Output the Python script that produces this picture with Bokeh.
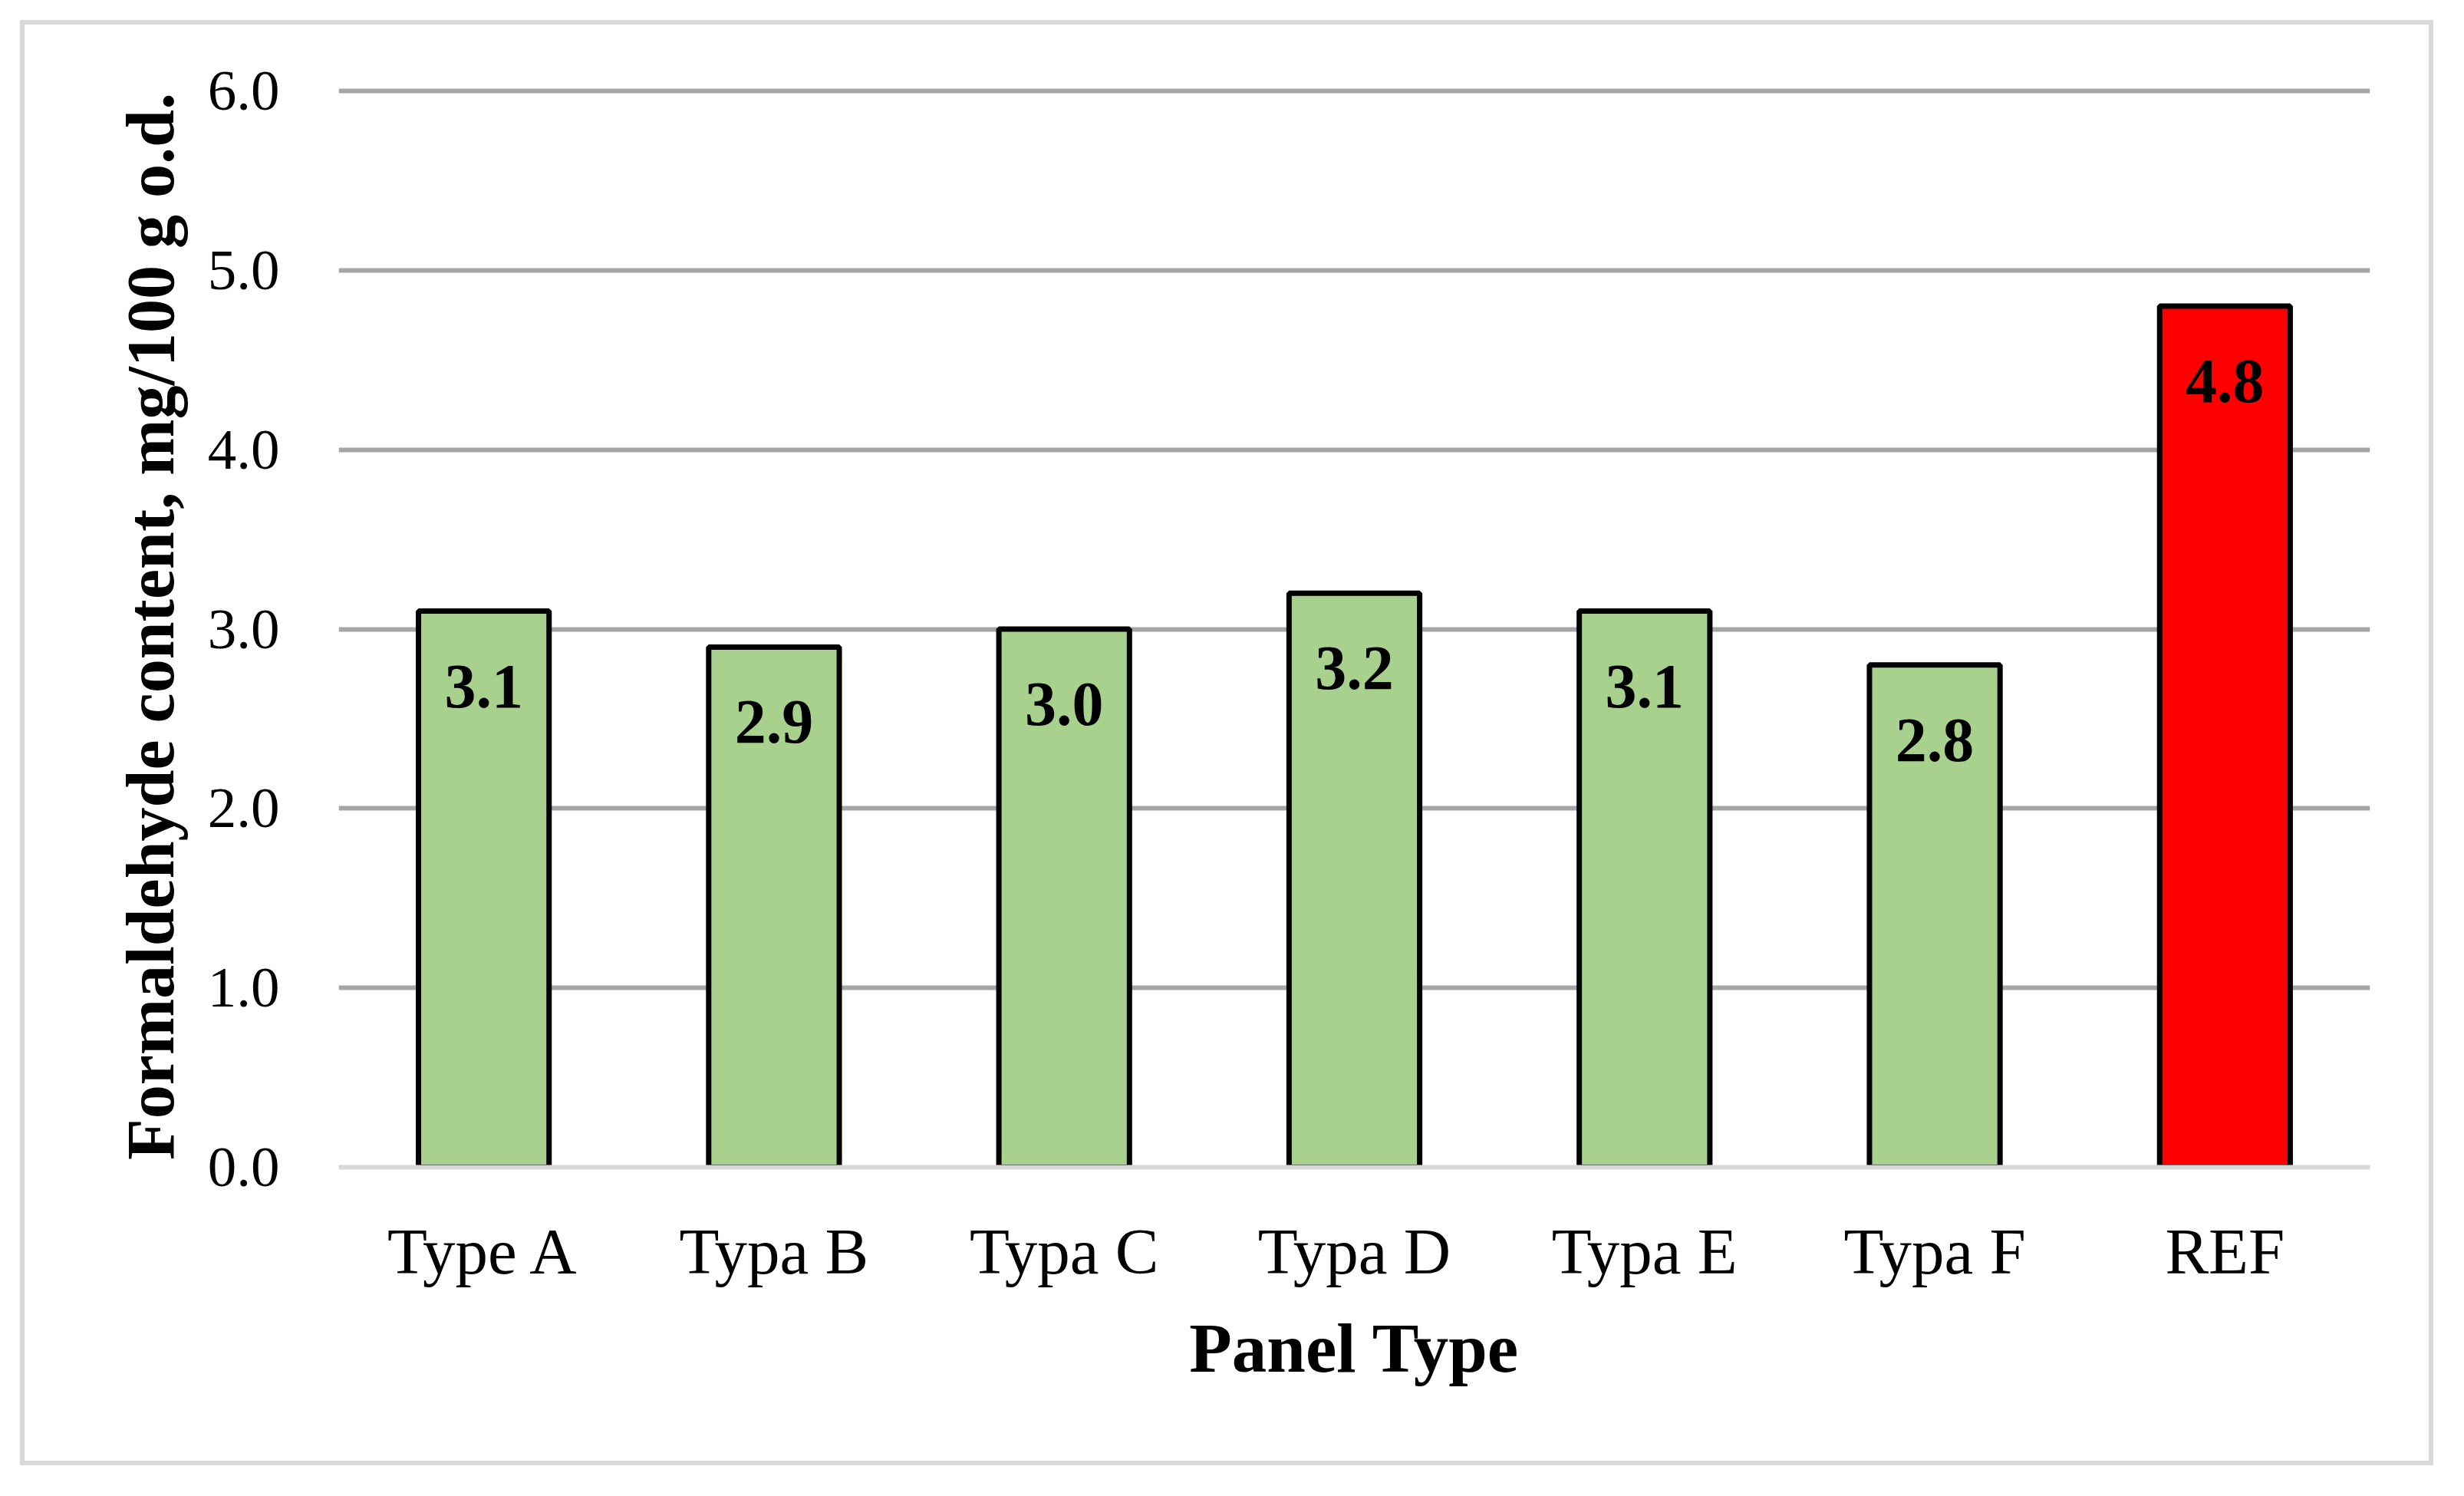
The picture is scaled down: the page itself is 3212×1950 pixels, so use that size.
from bokeh.plotting import figure
from bokeh.models import ColumnDataSource, FixedTicker, LabelSet, Range1d, NumeralTickFormatter
from bokeh.embed import file_html
from bokeh.resources import INLINE

categories = ["Type A", "Typa B", "Typa C", "Typa D", "Typa E", "Typa F", "REF"]
values = [3.1, 2.9, 3.0, 3.2, 3.1, 2.8, 4.8]
colors = ["#A9D18E", "#A9D18E", "#A9D18E", "#A9D18E", "#A9D18E", "#A9D18E", "#FF0000"]
y_ticks = [0, 1, 2, 3, 4, 5, 6]
x_title = "Panel Type"
y_title = "Formaldehyde content, mg/100 g o.d."

FONT = "Liberation Serif"

source = ColumnDataSource(dict(
    cat=categories,
    val=values,
    color=colors,
    label=[f"{v:.1f}" for v in values],
))

p = figure(
    x_range=categories,
    y_range=Range1d(0, 6.03),
    width=3146, height=1884,
    output_backend="svg",
    toolbar_location=None,
    min_border_left=409, min_border_right=89,
    min_border_top=79, min_border_bottom=395,
)
p.margin = (26, 0, 0, 26)
p.styles = {"border": "6px solid #d9d9d9"}
p.outline_line_color = None
p.background_fill_color = "white"
p.border_fill_color = "white"

p.vbar(x="cat", top="val", width=0.45, source=source,
       fill_color="color", line_color="black", line_width=7)

labels = LabelSet(x="cat", y="val", text="label", source=source,
                  y_offset=-98, text_align="center", text_baseline="middle",
                  text_font=FONT, text_font_style="bold", text_font_size="82px",
                  text_color="black")
p.add_layout(labels)

# grid
p.xgrid.grid_line_color = None
p.ygrid.ticker = FixedTicker(ticks=y_ticks[1:])
p.ygrid.grid_line_color = "#a6a6a6"
p.ygrid.grid_line_width = 6

# y axis
p.yaxis.ticker = FixedTicker(ticks=y_ticks)
p.yaxis.formatter = NumeralTickFormatter(format="0.0")
p.yaxis.axis_line_color = None
p.yaxis.major_tick_line_color = None
p.yaxis.minor_tick_line_color = None
p.yaxis.major_label_standoff = 71
p.yaxis.major_label_text_font = FONT
p.yaxis.major_label_text_font_size = "75px"
p.yaxis.major_label_text_color = "black"
p.yaxis.axis_label = y_title
p.yaxis.axis_label_text_font = FONT
p.yaxis.axis_label_text_font_style = "bold"
p.yaxis.axis_label_text_font_size = "88px"
p.yaxis.axis_label_text_color = "black"
p.yaxis.axis_label_standoff = 23

# x axis
p.xaxis.axis_line_color = "#d9d9d9"
p.xaxis.axis_line_width = 6
p.xaxis.major_tick_line_color = None
p.xaxis.minor_tick_line_color = None
p.xaxis.major_label_standoff = 56
p.xaxis.major_label_text_font = FONT
p.xaxis.major_label_text_font_size = "85px"
p.xaxis.major_label_text_color = "black"
p.xaxis.axis_label = x_title
p.xaxis.axis_label_text_font = FONT
p.xaxis.axis_label_text_font_style = "bold"
p.xaxis.axis_label_text_font_size = "91px"
p.xaxis.axis_label_text_color = "black"
p.xaxis.axis_label_standoff = 26

open("out.html", "w").write(file_html(p, INLINE))
